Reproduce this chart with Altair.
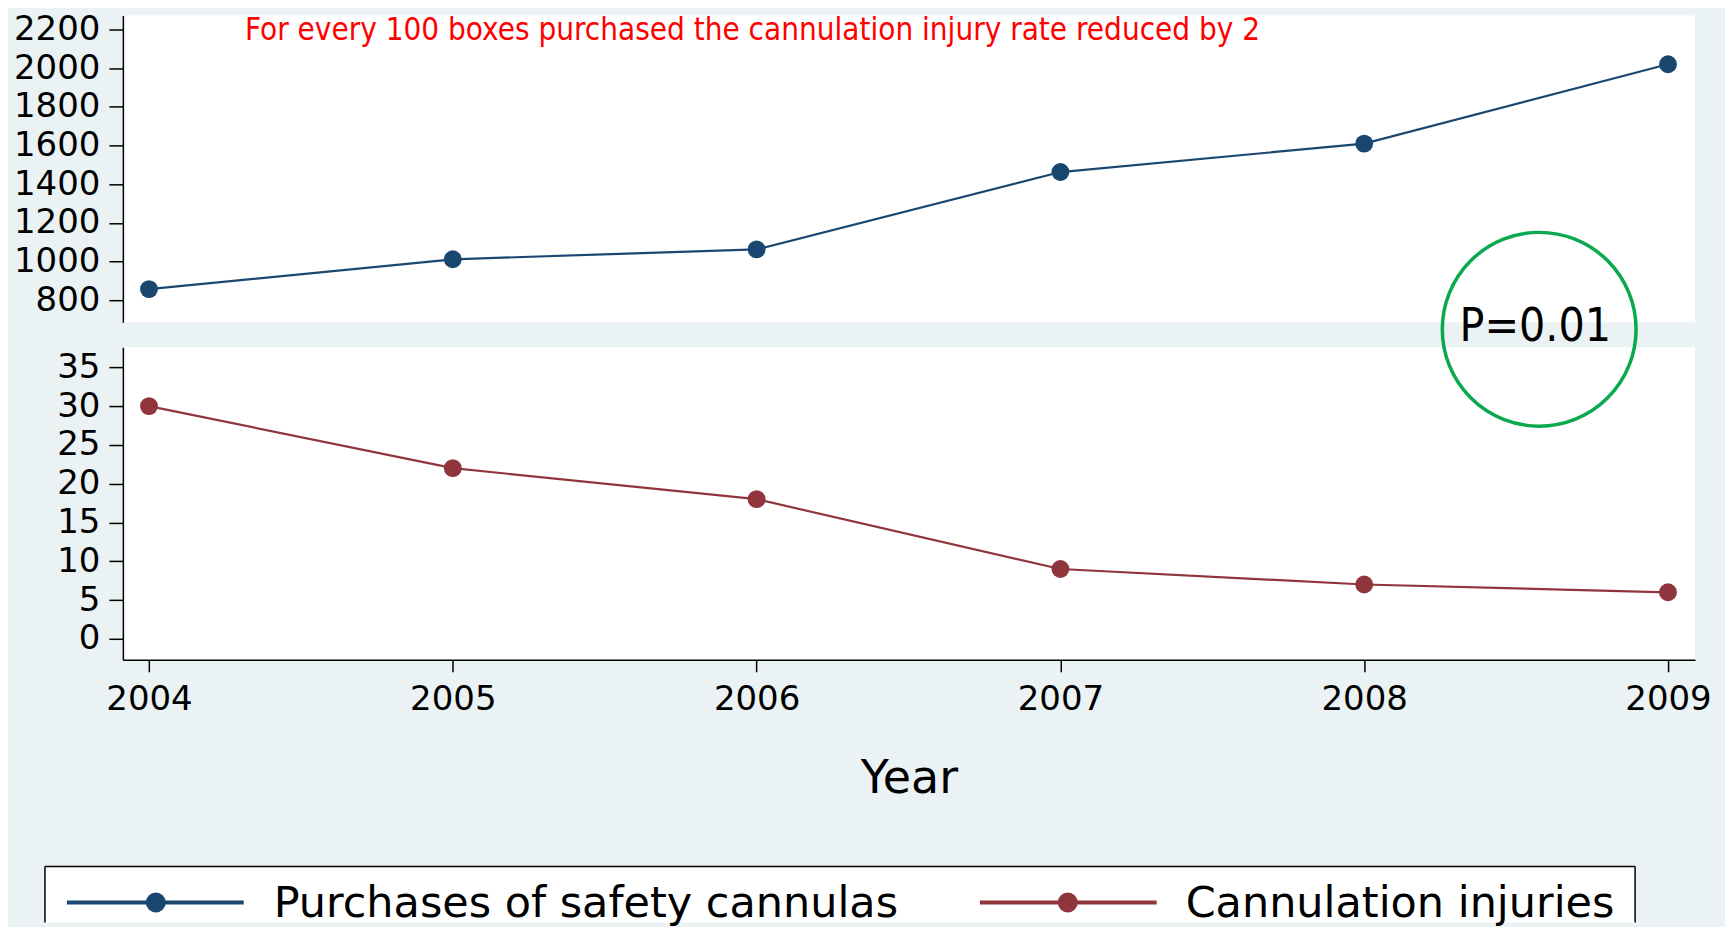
import altair as alt
import pandas as pd

# ---- data ----
years = [2004, 2005, 2006, 2007, 2008, 2009]
purchases = [858, 1012, 1063, 1463, 1610, 2020]
injuries = [30, 22, 18, 9, 7, 6]
series_labels = ["Purchases of safety cannulas", "Cannulation injuries"]
top_ticks = [800, 1000, 1200, 1400, 1600, 1800, 2000, 2200]
bottom_ticks = [0, 5, 10, 15, 20, 25, 30, 35]
annotation = "For every 100 boxes purchased the cannulation injury rate reduced by 2"
p_text = "P=0.01"
x_title = "Year"

NAVY = "#1a476f"
MAROON = "#90353b"
GREEN = "#0aa84f"
BG = "#eaf2f3"

W = 1574
H1 = 307
H2 = 313

df_top = pd.DataFrame({"Year": years, "value": purchases})
df_bot = pd.DataFrame({"Year": years, "value": injuries})

xscale = alt.Scale(domain=[2003.914, 2009.089], nice=False, zero=False)

# ---------- top panel ----------
x_top = alt.X("Year:Q", scale=xscale, axis=None)
y_top = alt.Y("value:Q",
              scale=alt.Scale(domain=[687, 2272], nice=False, zero=False),
              axis=alt.Axis(values=top_ticks, title=None, tickSize=14, labelPadding=9, format="d"))

top_line = alt.Chart(df_top).mark_line(color=NAVY, strokeWidth=2.2).encode(x=x_top, y=y_top)
top_pts = alt.Chart(df_top).mark_point(filled=True, opacity=1, size=320, color=NAVY).encode(x=x_top, y=y_top)
top_ann = alt.Chart(pd.DataFrame({"t": [annotation]})).mark_text(
    font="DejaVu Sans Condensed", fontSize=31.2, color="#ff0000", align="left", baseline="middle"
).encode(x=alt.datum(2004.316), y=alt.datum(2190), text="t:N")

top = alt.layer(top_line, top_pts, top_ann).properties(width=W, height=H1)

# ---------- bottom panel ----------
x_bot = alt.X("Year:Q", scale=xscale,
              axis=alt.Axis(values=years, format="d", title=x_title, tickSize=12,
                            labelPadding=11, titlePadding=40))
y_bot = alt.Y("value:Q",
              scale=alt.Scale(domain=[-2.7, 37.6], nice=False, zero=False),
              axis=alt.Axis(values=bottom_ticks, title=None, tickSize=14, labelPadding=9))

bot_line = alt.Chart(df_bot).mark_line(color=MAROON, strokeWidth=2.2).encode(x=x_bot, y=y_bot)
bot_pts = alt.Chart(df_bot).mark_point(filled=True, opacity=1, size=320, color=MAROON).encode(x=x_bot, y=y_bot)

circle = alt.Chart(pd.DataFrame({"t": [p_text]})).mark_point(
    shape="circle", filled=False, color=GREEN, size=194 * 194, strokeWidth=3.5, opacity=1
).encode(x=alt.datum(2008.576), y=alt.datum(39.9))
ptxt = alt.Chart(pd.DataFrame({"t": [p_text]})).mark_text(
    font="DejaVu Sans Condensed", fontSize=46, color="black", align="center", baseline="middle"
).encode(x=alt.datum(2008.563), y=alt.datum(40.2), text="t:N")

# ---------- legend (drawn below the lower panel) ----------
one = pd.DataFrame({"k": [0]})
box = alt.Chart(one).mark_rect(fill="white").encode(
    x=alt.value(-78), x2=alt.value(1514), y=alt.value(520), y2=alt.value(576))
box_top = alt.Chart(one).mark_rule(color="black", strokeWidth=1.5).encode(
    x=alt.value(-78), x2=alt.value(1514), y=alt.value(520))
box_left = alt.Chart(one).mark_rule(color="black", strokeWidth=1.5).encode(
    x=alt.value(-78), y=alt.value(520), y2=alt.value(576))
box_right = alt.Chart(one).mark_rule(color="black", strokeWidth=1.5).encode(
    x=alt.value(1514), y=alt.value(520), y2=alt.value(576))

legend_layers = [box, box_top, box_left, box_right]
leg_specs = [(series_labels[0], NAVY, -56, 121, 33, 151),
             (series_labels[1], MAROON, 858, 1035, 946, 1064)]
for lab, col, lx1, lx2, dx, tx in leg_specs:
    d = pd.DataFrame({"label": [lab]})
    legend_layers.append(alt.Chart(d).mark_rule(color=col, strokeWidth=4).encode(
        x=alt.value(lx1), x2=alt.value(lx2), y=alt.value(556)))
    legend_layers.append(alt.Chart(d).mark_point(filled=True, opacity=1, size=400, color=col).encode(
        x=alt.value(dx), y=alt.value(556)))
    legend_layers.append(alt.Chart(d).mark_text(
        font="DejaVu Sans", fontSize=43, color="black", align="left", baseline="middle"
    ).encode(x=alt.value(tx), y=alt.value(558), text="label:N"))

bottom = alt.layer(bot_line, bot_pts, *legend_layers, circle, ptxt).properties(width=W, height=H2)

chart = alt.vconcat(top, bottom, spacing=25, bounds="flush").properties(
    padding={"left": 5, "top": 3, "right": 13, "bottom": 0},
    background=BG,
).configure_view(stroke=None, fill="white").configure_axis(
    labelFont="DejaVu Sans", labelFontSize=34, labelColor="black",
    tickColor="black", domainColor="black", domainWidth=1.5, tickWidth=1.5,
    grid=False, titleFont="DejaVu Sans", titleFontSize=46, titleFontWeight="normal",
    titleColor="black",
)

chart.save("out.html", embed_options={"renderer": "svg", "actions": False})
